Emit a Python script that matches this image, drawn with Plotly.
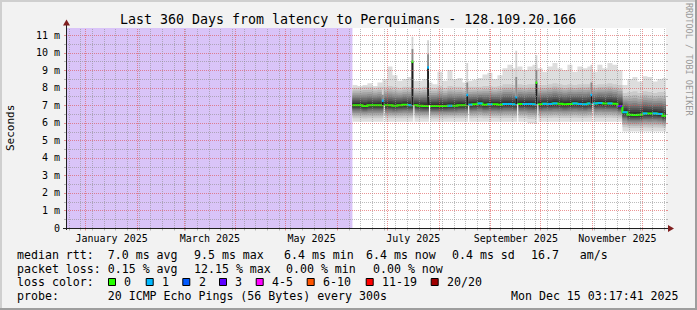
import numpy as np
import pandas as pd
import plotly.graph_objects as go

# ---------------- data ----------------
TITLE = "Last 360 Days from latency to Perquimans - 128.109.20.166"
START = "2024-12-20 03:17:41"
END = "2025-12-15 03:17:41"
FIRST_DATA = "2025-06-10"
Y_MAX = 11.4

# 3-day steps starting at FIRST_DATA
median_ms = [7.0, 7.0, 6.95, 7.0, 7.0, 7.0,
             7.0, 7.0, 6.97, 7.0, 7.02, 7.0,
             7.0, 6.97, 6.95, 6.95, 6.95, 6.95,
             6.95, 6.97, 6.97, 7.0, 7.0, 7.03,
             7.05, 7.1, 7.03, 7.05, 7.05, 7.03,
             7.07, 7.07, 7.05, 7.07, 7.07, 7.07,
             7.05, 7.05, 7.08, 7.07, 7.1, 7.08,
             7.05, 7.07, 7.1, 7.07, 7.05, 7.1,
             7.1, 7.12, 7.1, 7.1, 7.08, 6.95,
             6.6, 6.45, 6.44, 6.45, 6.53, 6.52, 6.53, 6.5, 6.4]
loss_idx = [0, 0, 0, 0, 0, 0,
            0, 0, 0, 0, 0, 1,
            0, 0, 0, 0, 0, 0,
            0, 1, 0, 0, 0, 1,
            0, 1, 0, 1, 0, 0,
            1, 1, 1, 0, 1, 1,
            1, 0, 1, 1, 1, 0,
            0, 0, 1, 1, 1, 1,
            1, 1, 0, 1, 0, 3,
            1, 0, 0, 0, 1, 0, 1, 1, 0]
smoke_min = [6.05, 6.05, 6.05, 6.05, 6.05, 6.05,
             6.05, 6.05, 6.05, 6.05, 6.05, 6.05,
             6.05, 6.05, 6.05, 6.05, 6.05, 6.05,
             6.05, 6.05, 6.05, 6.05, 6.05, 6.05,
             6.05, 6.05, 6.05, 6.05, 6.05, 6.05,
             6.05, 6.05, 6.05, 6.05, 6.05, 5.97,
             5.97, 6.05, 6.05, 6.05, 6.05, 6.05,
             6.05, 6.05, 6.05, 6.05, 6.05, 6.05,
             6.05, 6.05, 6.05, 6.05, 6.05, 6.05,
             5.5, 5.5, 5.5, 5.5, 5.5, 5.5, 5.5, 5.5, 5.5]
smoke_hi = [8.0, 8.0, 8.05, 8.05, 8.0, 8.05,
            8.05, 8.1, 8.05, 8.0, 8.05, 8.05,
            8.0, 8.0, 8.05, 8.0, 8.0, 8.1,
            8.0, 8.1, 8.05, 8.05, 8.0, 8.05,
            8.05, 8.05, 8.1, 8.1, 8.05, 8.1,
            8.2, 8.2, 8.15, 8.2, 8.15, 8.2,
            8.2, 8.15, 8.15, 8.2, 8.25, 8.2,
            8.15, 8.2, 8.15, 8.2, 8.2, 8.2,
            8.15, 8.2, 8.2, 8.25, 8.2, 8.15,
            7.7, 7.75, 7.8, 7.7, 7.8, 7.75, 7.7, 7.75, 7.75]
smoke_max = [8.15, 8.1, 8.15, 8.25, 8.1, 8.3,
             8.5, 9.2, 8.7, 8.4, 8.5, 8.6,
             8.4, 8.4, 8.5, 8.3, 8.2, 8.9,
             8.4, 9.0, 8.5, 8.55, 8.3, 8.4,
             8.45, 8.55, 8.75, 8.85, 8.5, 8.7,
             9.1, 9.3, 9.1, 9.2, 9.0, 9.2,
             9.3, 9.1, 8.9, 9.2, 9.4, 9.1,
             9.0, 9.3, 8.9, 9.2, 9.1, 9.2,
             8.9, 9.3, 9.1, 9.4, 9.3, 9.0,
             8.15, 8.5, 8.6, 8.35, 8.65, 8.6, 8.35, 8.5, 8.55]

# short latency spikes
spike_time = ["2025-06-28 10:00", "2025-07-16 05:00", "2025-07-25 14:00",
              "2025-08-18 02:00", "2025-09-16 12:00", "2025-09-28 14:00",
              "2025-10-31 14:00"]
spike_min = [7.0, 7.0, 7.0, 7.0, 7.05, 7.05, 7.1]
spike_med = [7.25, 9.48, 9.15, 7.58, 7.45, 8.28, 7.58]
spike_mid = [7.6, 10.2, 9.9, 8.3, 8.6, 9.0, 8.3]
spike_max = [8.0, 10.9, 10.7, 9.4, 10.1, 9.85, 9.3]
spike_loss = [1, 0, 1, 1, 1, 0, 1]

y_tick_vals = [0, 1, 2, 3, 4, 5, 6, 7, 8, 9, 10, 11]
y_tick_text = ["0", "1 m", "2 m", "3 m", "4 m", "5 m", "6 m", "7 m", "8 m",
               "9 m", "10 m", "11 m"]
x_label_pos = ["2025-01-16 12:00", "2025-03-16 12:00", "2025-05-16 12:00",
               "2025-07-16 12:00", "2025-09-16 00:00", "2025-11-16 00:00"]
x_label_text = ["January 2025", "March 2025", "May 2025", "July 2025",
                "September 2025", "November 2025"]

loss_labels = ["0", "1", "2", "3", "4-5", "6-10", "11-19", "20/20"]
loss_colors = ["#26ff00", "#00b8ff", "#0059ff", "#5e00ff", "#ff00ff",
               "#ff5500", "#ff0000", "#a00000"]

rtt_items = ["median rtt:  7.0 ms avg", "9.5 ms max", "6.4 ms min",
             "6.4 ms now", "0.4 ms sd", "16.7   am/s"]
loss_items = ["packet loss: 0.15 % avg", "12.15 % max", "0.00 % min", "0.00 % now"]
probe_text = "probe:       20 ICMP Echo Pings (56 Bytes) every 300s"
date_text = "Mon Dec 15 03:17:41 2025"

# ---------------- layout geometry (pixels) ----------------
W, H = 697, 310
L, R, T, B = 66, 666, 28, 228
MONO = "DejaVu Sans Mono"


def px_x(px):
    return (px - L) / (R - L)


def px_y(py):
    return (B - py) / (B - T)


t_start = pd.Timestamp(START)
t_end = pd.Timestamp(END)
span = (t_end - t_start).total_seconds()


def val_py(v):      # value -> pixel row centre (crisp 1px lines)
    return round(B - v * (B - T) / Y_MAX) + 0.5


def date_px(d):     # date -> pixel column centre
    return np.floor(L + (d - t_start).total_seconds() / span * (R - L)) + 0.5


dates = list(pd.date_range(FIRST_DATA, periods=len(median_ms), freq="3D"))
xs = [d.isoformat() for d in dates] + [t_end.isoformat()]


def ext(a):
    return list(a) + [a[-1]]


fig = go.Figure()

# unknown (no data) area
fig.add_trace(go.Scatter(x=[t_start.isoformat(), dates[0].isoformat()], y=[Y_MAX, Y_MAX],
                         mode="lines", line=dict(width=0, shape="hv"),
                         fill="tozeroy", fillcolor="#d9c4f8", hoverinfo="skip",
                         showlegend=False))

# smoke layers
med = np.array(median_ms)
smin = np.array(smoke_min)
shi = np.array(smoke_hi)
smax = np.array(smoke_max)
grey = [221, 202, 183, 164, 145, 126, 107, 88, 69, 50]
for j, g in enumerate(grey):
    if j == 0:
        lo, hi = smin, smax
    else:
        lo = smin + (med - smin) * (j / 10.5) ** 0.65
        hi = shi + (med - shi) * ((j - 1) / 9.5) ** 0.8
    fig.add_trace(go.Scatter(x=xs, y=ext(lo), mode="lines",
                             line=dict(width=0, shape="hv"), hoverinfo="skip",
                             showlegend=False))
    fig.add_trace(go.Scatter(x=xs, y=ext(hi), mode="lines",
                             line=dict(width=0, shape="hv"), fill="tonexty",
                             fillcolor=f"rgb({g},{g},{g})", hoverinfo="skip",
                             showlegend=False))

# median line
fig.add_trace(go.Scatter(x=xs, y=ext(median_ms), mode="lines",
                         line=dict(color=loss_colors[0], width=2, shape="hv"),
                         hoverinfo="skip", showlegend=False))
for c in sorted(set(loss_idx)):
    if c == 0:
        continue
    sx, sy = [], []
    for k, lv in enumerate(loss_idx):
        if lv == c:
            sx += [xs[k], xs[k + 1], None]
            sy += [median_ms[k], median_ms[k], None]
    fig.add_trace(go.Scatter(x=sx, y=sy, mode="lines",
                             line=dict(color=loss_colors[c], width=2),
                             hoverinfo="skip", showlegend=False))

# spikes
H_L, H_R = pd.Timedelta(hours=18), pd.Timedelta(hours=8)
G_L, G_R = pd.Timedelta(hours=8), pd.Timedelta(hours=24)


def rects(lows, highs, hl, hr):
    px, py = [], []
    for t, a, b in zip(spike_time, lows, highs):
        tt = pd.Timestamp(t)
        x0, x1 = (tt - hl).isoformat(), (tt + hr).isoformat()
        px += [x0, x1, x1, x0, x0, None]
        py += [a, a, b, b, a, None]
    return px, py


for lows, highs, col, hl, hr in [
        ([0] * len(spike_time), spike_min, "white", -G_L, G_R),
        (spike_min, spike_max, "#d2d2d2", H_L, H_R),
        (spike_min, spike_mid, "#8a8a8a", H_L, H_R),
        (spike_min, spike_med, "#1e1e1e", H_L, H_R)]:
    px, py = rects(lows, highs, hl, hr)
    fig.add_trace(go.Scatter(x=px, y=py, mode="lines", line=dict(width=0),
                             fill="toself", fillcolor=col, hoverinfo="skip",
                             showlegend=False))
for c in sorted(set(spike_loss)):
    idx = [i for i, v in enumerate(spike_loss) if v == c]
    px, py = [], []
    for i in idx:
        tt = pd.Timestamp(spike_time[i])
        x0, x1 = (tt - H_L).isoformat(), (tt + H_R).isoformat()
        a, b = spike_med[i] - 0.07, spike_med[i] + 0.07
        px += [x0, x1, x1, x0, x0, None]
        py += [a, a, b, b, a, None]
    fig.add_trace(go.Scatter(x=px, y=py, mode="lines", line=dict(width=0),
                             fill="toself", fillcolor=loss_colors[c],
                             hoverinfo="skip", showlegend=False))

# ---------------- grid (drawn above, like rrdtool) ----------------
shapes = []
MAJ = "rgba(222,79,79,0.6)"
MIN = "rgba(143,143,143,0.6)"
DASH = "1px,1px"


def pline(x0, y0, x1, y1, col, dash=None):
    ln = dict(color=col, width=1)
    if dash:
        ln["dash"] = dash
    shapes.append(dict(type="line", xref="paper", yref="paper", x0=px_x(x0),
                       x1=px_x(x1), y0=px_y(y0), y1=px_y(y1), line=ln, layer="above"))


i = 1
while i / 2 <= Y_MAX:
    v = i / 2
    col = MAJ if i % 2 == 0 else MIN
    py = val_py(v)
    pline(L, py, R, py, col, DASH)
    pline(L - 2, py, L, py, col)
    pline(R, py, R + 2, py, col)
    i += 1

months = list(pd.date_range("2025-01-01", "2025-12-01", freq="MS"))
sundays = [d for d in pd.date_range("2024-12-22", t_end, freq="7D") if d not in months]
for d, col in [(d, MIN) for d in sundays] + [(d, MAJ) for d in months]:
    px = date_px(d)
    pline(px, B, px, T, col, DASH)
    pline(px, B, px, B + 2.5, col)

# axes + arrows
AX = "#1f1f1f"
ARROW = "#801f1f"
pline(L + 0.5, B + 2, L + 0.5, 24, AX)
pline(L - 3, B + 0.5, R + 4, B + 0.5, AX)


def path(pts):
    return "M " + " L ".join(f"{px_x(a)},{px_y(b)}" for a, b in pts) + " Z"


shapes.append(dict(type="path", xref="paper", yref="paper",
                   path=path([(L + 0.5, 19.5), (L - 3, 25.5), (L + 4, 25.5)]),
                   fillcolor=ARROW, line=dict(width=0), layer="above"))
shapes.append(dict(type="path", xref="paper", yref="paper",
                   path=path([(R + 8, B + 0.5), (R + 2, B - 3), (R + 2, B + 4)]),
                   fillcolor=ARROW, line=dict(width=0), layer="above"))

# frame (3D shade)
shapes += [
    dict(type="rect", xref="paper", yref="paper", x0=px_x(0), x1=px_x(W), y0=px_y(0),
         y1=px_y(2), fillcolor="#cfcfcf", line=dict(width=0), layer="above"),
    dict(type="rect", xref="paper", yref="paper", x0=px_x(0), x1=px_x(2), y0=px_y(0),
         y1=px_y(H), fillcolor="#cfcfcf", line=dict(width=0), layer="above"),
    dict(type="rect", xref="paper", yref="paper", x0=px_x(0), x1=px_x(W), y0=px_y(H - 2),
         y1=px_y(H), fillcolor="#9e9e9e", line=dict(width=0), layer="above"),
    dict(type="rect", xref="paper", yref="paper", x0=px_x(W - 2), x1=px_x(W), y0=px_y(0),
         y1=px_y(H), fillcolor="#9e9e9e", line=dict(width=0), layer="above"),
]

# legend colour boxes
box_x = [108, 145.7, 182.3, 219, 255.7, 306.7, 365.7, 430.7]
for bx, col in zip(box_x, loss_colors):
    shapes.append(dict(type="rect", xref="paper", yref="paper", x0=px_x(bx + 0.5),
                       x1=px_x(bx + 7.5), y0=px_y(278.5), y1=px_y(285.5),
                       fillcolor=col, line=dict(color="black", width=1), layer="above"))

# ---------------- texts ----------------
ann = []


def text(s, px, py, size=11.6, anchor="left", color="black", angle=0):
    ann.append(dict(text=s, x=px_x(px), y=px_y(py), xref="paper", yref="paper",
                    xanchor=anchor, yanchor="middle", showarrow=False,
                    textangle=angle, borderpad=0,
                    font=dict(family=MONO, size=size, color=color)))


text(TITLE, 348, 19.5, size=13.3, anchor="center")
text("Seconds", 10, 128, size=11, anchor="center", angle=-90)
text("RRDTOOL / TOBI OETIKER", 689, 59, size=8.5, anchor="center", angle=90,
     color="#999999")
for s, px in zip(rtt_items, [16, 193, 283, 365, 451, 530]):
    text(s, px, 254.5)
for s, px in zip(loss_items, [16, 193, 285, 372]):
    text(s, px, 268.5)
text("loss color:", 16, 282)
for bx, s in zip(box_x, loss_labels):
    text(s, bx + 15.3, 282)
text(probe_text, 16, 296)
text(date_text, 680, 296, anchor="right")

fig.update_layout(
    width=W, height=H, autosize=False,
    margin=dict(l=L, r=W - R, t=T, b=H - B, pad=0),
    paper_bgcolor="#f2f2f2", plot_bgcolor="white",
    shapes=shapes, annotations=ann, showlegend=False,
    xaxis=dict(type="date", range=[t_start.isoformat(), t_end.isoformat()],
               showgrid=False, zeroline=False, showline=False, ticks="",
               tickmode="array", tickvals=x_label_pos, ticktext=x_label_text,
               tickfont=dict(family=MONO, size=10, color="black"),
               ticklabelstandoff=3, fixedrange=True),
    yaxis=dict(range=[0, Y_MAX], showgrid=False, zeroline=False, showline=False,
               ticks="", tickmode="array", tickvals=y_tick_vals, ticktext=y_tick_text,
               tickfont=dict(family=MONO, size=10, color="black"),
               ticklabelstandoff=5, fixedrange=True),
)

fig.write_html("out.html", config={"displayModeBar": False, "staticPlot": True})
